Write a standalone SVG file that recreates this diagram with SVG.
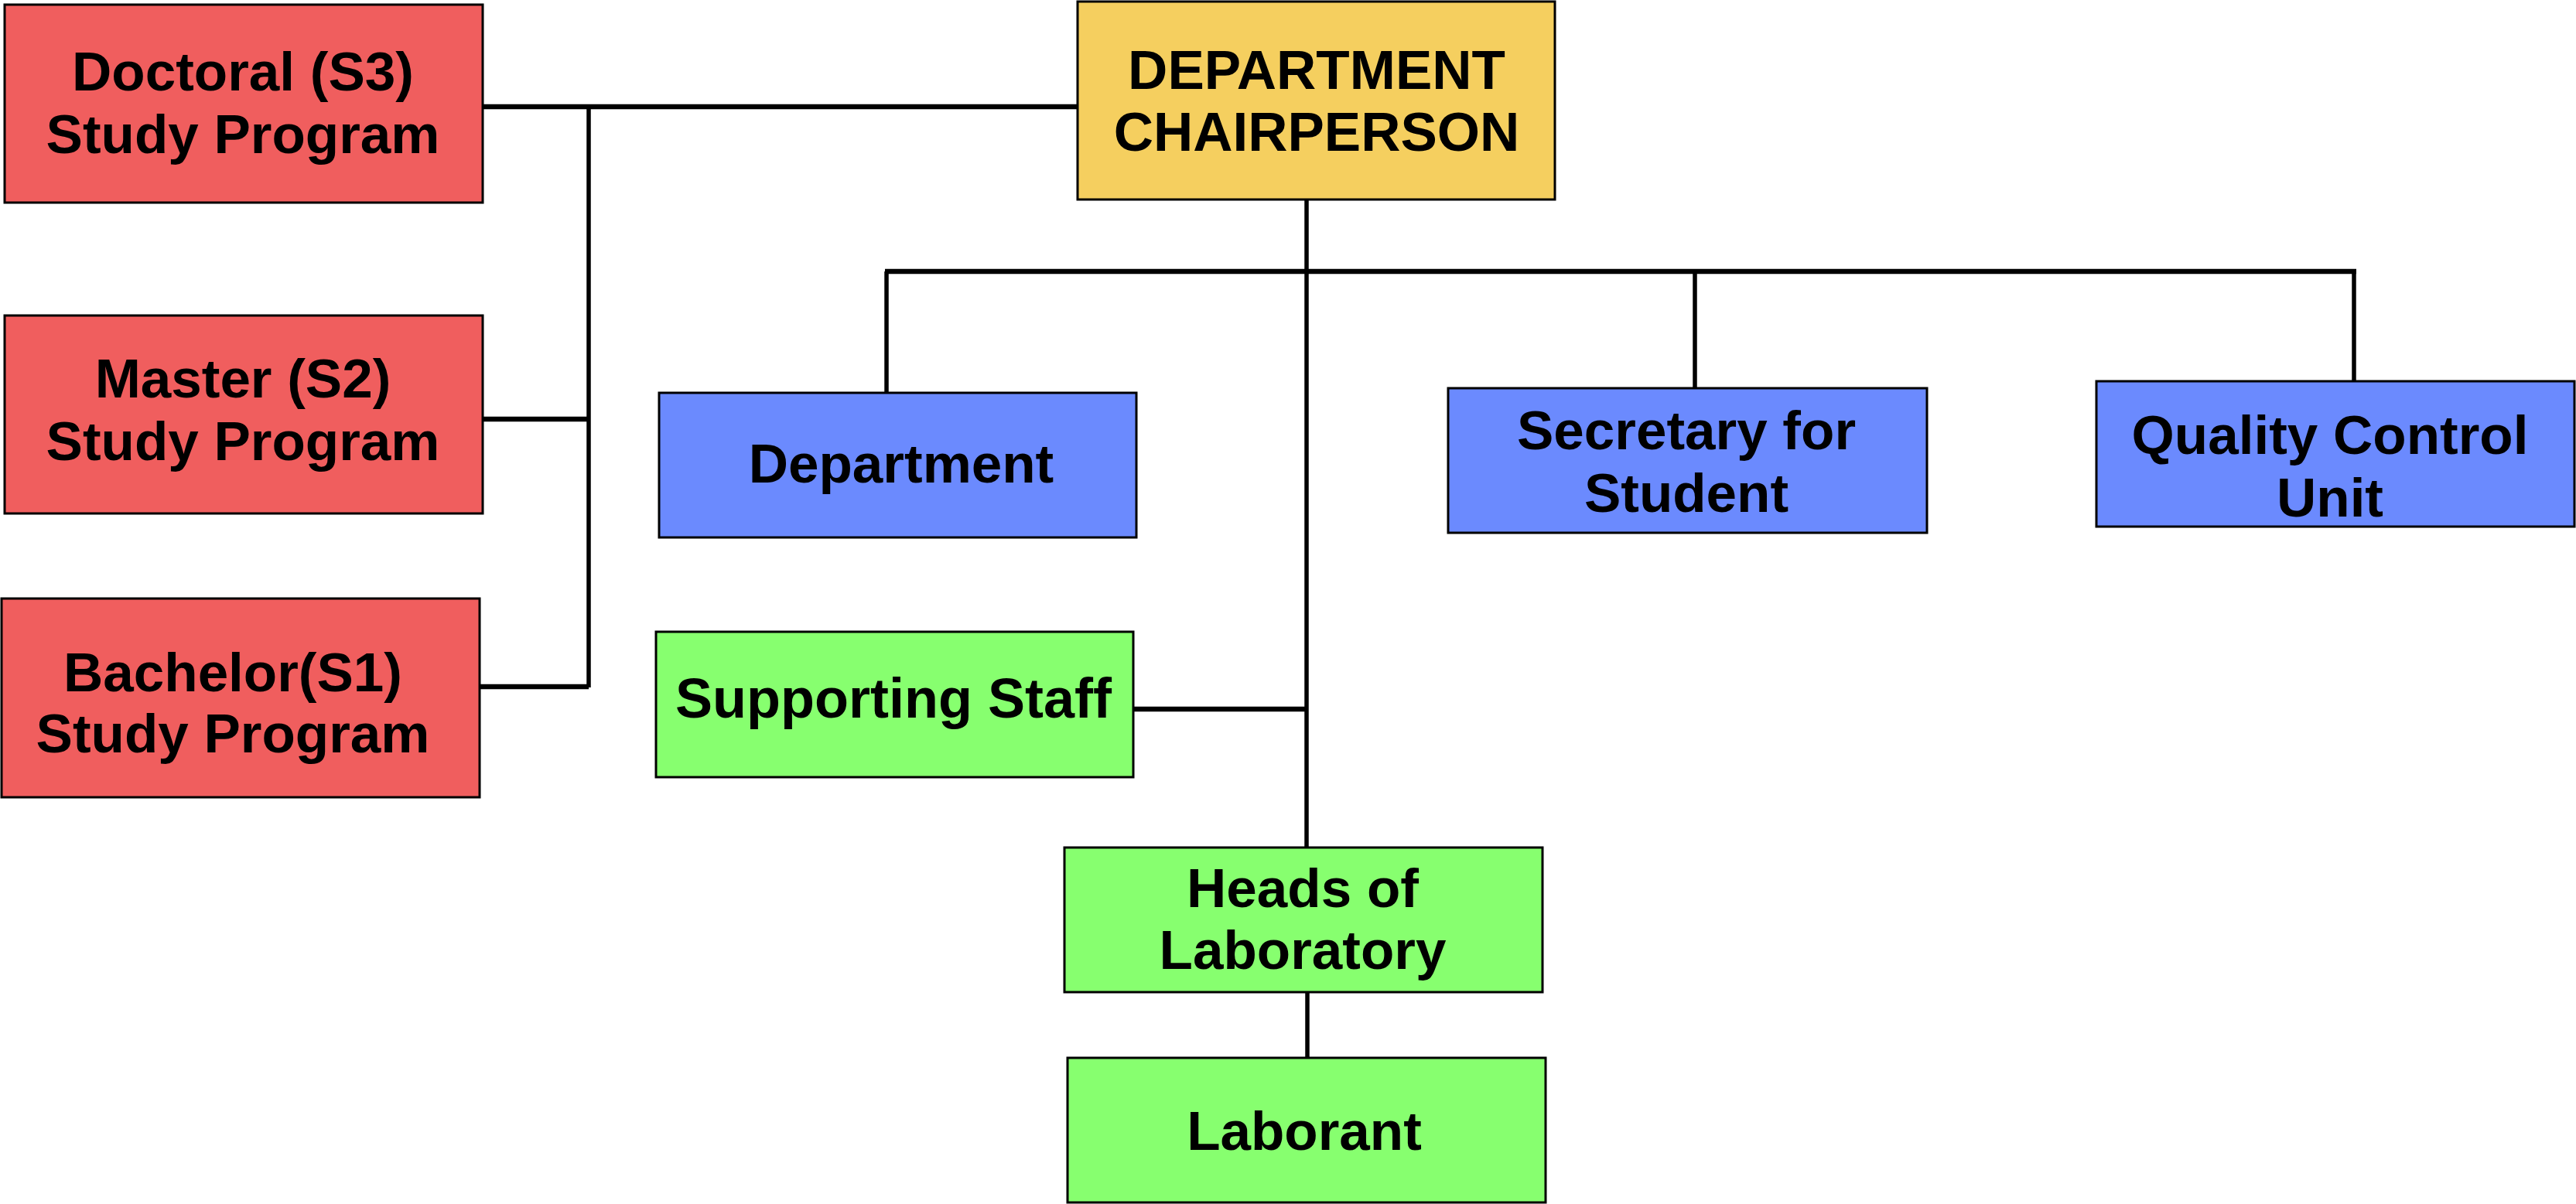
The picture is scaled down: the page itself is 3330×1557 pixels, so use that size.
<svg xmlns="http://www.w3.org/2000/svg" width="3330" height="1557" viewBox="0 0 3330 1557">
<style>
.box{stroke:#000;stroke-width:3}
.red{fill:#F05E5E}
.yel{fill:#F5CF5F}
.blu{fill:#6B8AFE}
.grn{fill:#87FF6F}
text{font-family:"Liberation Sans",Arial,sans-serif;font-weight:bold;font-size:71px;fill:#000;text-anchor:middle}
.ln{stroke:#000;stroke-width:5.5;fill:none}
.hb{stroke:#000;stroke-width:6.5;fill:none}
</style>
<rect width="3330" height="1557" fill="#fff"/>
<g id="connectors">
<line class="hb" x1="622" y1="138" x2="1393" y2="138"/>
<line class="ln" x1="761" y1="138" x2="761" y2="889"/>
<line class="hb" x1="622" y1="542" x2="761" y2="542"/>
<line class="hb" x1="620" y1="888" x2="761" y2="888"/>
<line class="ln" x1="1689" y1="259" x2="1689" y2="1096"/>
<line class="hb" x1="1144" y1="351" x2="3046" y2="351"/>
<line class="ln" x1="1146" y1="351" x2="1146" y2="508"/>
<line class="ln" x1="2191" y1="351" x2="2191" y2="502"/>
<line class="ln" x1="3043" y1="351" x2="3043" y2="493"/>
<line class="hb" x1="1465" y1="917" x2="1689" y2="917"/>
<line class="ln" x1="1690" y1="1283" x2="1690" y2="1372"/>
</g>
<g id="chair">
<rect class="box yel" x="1393" y="2" width="617" height="256"/>
<text x="1702" y="115">DEPARTMENT</text>
<text x="1702" y="195">CHAIRPERSON</text>
</g>
<g id="doctoral">
<rect class="box red" x="6" y="6" width="618" height="256"/>
<text x="314" y="117">Doctoral (S3)</text>
<text x="314" y="198">Study Program</text>
</g>
<g id="master">
<rect class="box red" x="6" y="408" width="618" height="256"/>
<text x="314" y="514">Master (S2)</text>
<text x="314" y="595">Study Program</text>
</g>
<g id="bachelor">
<rect class="box red" x="2" y="774" width="618" height="257"/>
<text x="301" y="894">Bachelor(S1)</text>
<text x="301" y="973">Study Program</text>
</g>
<g id="department">
<rect class="box blu" x="852" y="508" width="617" height="187"/>
<text x="1165" y="624">Department</text>
</g>
<g id="secretary">
<rect class="box blu" x="1872" y="502" width="619" height="187"/>
<text x="2180" y="581">Secretary for</text>
<text x="2180" y="662">Student</text>
</g>
<g id="quality">
<rect class="box blu" x="2710" y="493" width="618" height="188"/>
<text x="3012" y="587">Quality Control</text>
<text x="3012" y="668">Unit</text>
</g>
<g id="supporting">
<rect class="box grn" x="848" y="817" width="617" height="188"/>
<text x="1155" y="928" style="font-size:72px">Supporting Staff</text>
</g>
<g id="heads">
<rect class="box grn" x="1376" y="1096" width="618" height="187"/>
<text x="1684" y="1173">Heads of</text>
<text x="1684" y="1253">Laboratory</text>
</g>
<g id="laborant">
<rect class="box grn" x="1380" y="1368" width="618" height="187"/>
<text x="1686" y="1487">Laborant</text>
</g>
</svg>
